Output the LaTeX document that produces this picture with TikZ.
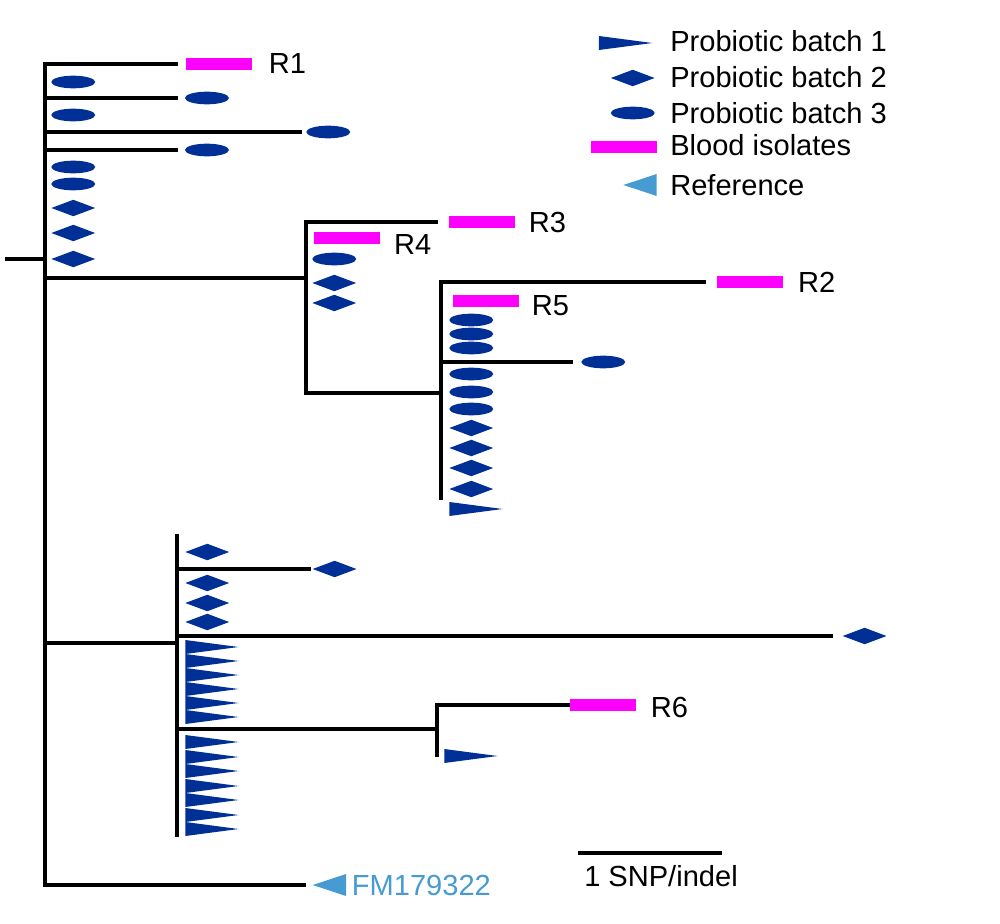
\documentclass[tikz,border=0pt]{standalone}
\usepackage{fontspec}
\setmainfont{Liberation Sans}
\usetikzlibrary{positioning,shapes.geometric}
\definecolor{batchblue}{RGB}{0,48,150}
\definecolor{bloodpink}{RGB}{255,0,255}
\definecolor{refblue}{RGB}{70,155,210}
\tikzset{
	branch/.style={line width=3.6pt},
	stem/.style={line width=3.6pt,line cap=rect},
	bone/.style={isosceles triangle,isosceles triangle stretches,fill=batchblue,inner sep=0pt,minimum width=10.5pt,minimum height=40pt,anchor=west},
	btwo/.style={diamond,fill=batchblue,inner sep=0pt,minimum width=33pt,minimum height=12.5pt,anchor=west},
	bthree/.style={ellipse,fill=batchblue,inner sep=0pt,minimum width=33pt,minimum height=9.5pt,anchor=west},
	blood/.style={rectangle,fill=bloodpink,inner sep=0pt,minimum width=49.5pt,minimum height=8.5pt,anchor=west},
	refst/.style={isosceles triangle,isosceles triangle stretches,shape border rotate=180,fill=refblue,inner sep=0pt,minimum width=16.5pt,minimum height=25pt,anchor=west},
	tag/.style={inner sep=0pt,anchor=west}
}
\begin{document}
\begin{tikzpicture}[x=0.75pt,y=-0.75pt,font=\fontsize{21.8}{26}\selectfont]
	\useasboundingbox (0,0) rectangle (1000,924);
	\coordinate (root) at (5,259);
	\coordinate (n0) at (45,259);
	\coordinate (n1) at (306,278);
	\coordinate (n2) at (441,393);
	\coordinate (n2end) at (441,498);
	\coordinate (n3) at (177,643);
	\coordinate (n3top) at (177,536);
	\coordinate (n3end) at (177,835);
	\coordinate (n4) at (437,729);
	\coordinate (n4end) at (437,755);
	\coordinate (tR1) at (178,64);
	\coordinate (tE1) at (178,98);
	\coordinate (tE2) at (302,132);
	\coordinate (tE3) at (178,150);
	\coordinate (tR3) at (438,222);
	\coordinate (tR2) at (706,282);
	\coordinate (tE4) at (573,362);
	\coordinate (tD1) at (311,569);
	\coordinate (tD2) at (833,636);
	\coordinate (tR6) at (570,705);
	\coordinate (tref) at (306,885);
	
	\draw[stem] (n0 |- tR1) -- (n0 |- tref);
	\draw[stem] (n1 |- tR3) -- (n1 |- n2);
	\draw[stem] (n2 |- tR2) -- (n2end);
	\draw[stem] (n3top) -- (n3end);
	\draw[stem] (n4 |- tR6) -- (n4end);
	\draw[branch] (root) -- (n0);
	\foreach \t in {tR1,tE1,tE2,tE3,n1,n3,tref} {\draw[branch] (n0 |- \t) -- (\t);}
	\foreach \t in {tR3,n2} {\draw[branch] (n1 |- \t) -- (\t);}
	\foreach \t in {tR2,tE4} {\draw[branch] (n2 |- \t) -- (\t);}
	\foreach \t in {tD1,tD2,n4} {\draw[branch] (n3 |- \t) -- (\t);}
	\draw[branch] (n4 |- tR6) -- (tR6);
	
	\node[blood,right=6pt of tR1] (R1) {};
	\node[tag,right=12pt of R1] (lR1) {R1};
	\node[bthree,right=5pt of tE1] (E1) {};
	\node[bthree,right=3pt of tE2] (E2) {};
	\node[bthree,right=5pt of tE3] (E3) {};
	\foreach \y in {82,115,167,184} {\node[bthree] (a\y) at (51,\y) {};}
	\foreach \y in {208,233,259} {\node[btwo] (a\y) at (51,\y) {};}
	
	\node[blood,right=8pt of tR3] (R3) {};
	\node[tag,right=10pt of R3] (lR3) {R3};
	\node[blood] (R4) at (314,238) {};
	\node[tag,right=10pt of R4,yshift=-4.5pt] (lR4) {R4};
	\node[bthree] (b259) at (312,259) {};
	\foreach \y in {283,303} {\node[btwo] (b\y) at (312,\y) {};}
	
	\node[blood,right=8pt of tR2] (R2) {};
	\node[tag,right=11pt of R2] (lR2) {R2};
	\node[blood] (R5) at (453,301) {};
	\node[tag,right=9pt of R5,yshift=-3.5pt] (lR5) {R5};
	\node[bthree,right=6pt of tE4] (E4) {};
	\foreach \y in {320,334,348,374,392,409} {\node[bthree] (d\y) at (449,\y) {};}
	\foreach \y in {428,448,468,489} {\node[btwo] (d\y) at (449,\y) {};}
	\node[bone] (d509) at (449,509) {};
	
	\node[btwo,right=1pt of tD1] (D1) {};
	\node[btwo,right=7pt of tD2] (D2) {};
	\foreach \y in {552,583,603,622} {\node[btwo] (c\y) at (185,\y) {};}
	\foreach \y in {647,661,675,689,703,717,742,757,771,786,800,815,829} {\node[bone] (c\y) at (185,\y) {};}
	\node[blood,right=0pt of tR6] (R6) {};
	\node[tag,right=10.5pt of R6,yshift=-1.5pt] (lR6) {R6};
	\node[bone] (e756) at (444,756) {};
	
	\node[refst,right=4.5pt of tref] (ref) {};
	\node[tag,text=refblue,right=4pt of ref] (lref) {FM179322};
	
	\coordinate (s0) at (578,853);
	\coordinate (s1) at (722,853);
	\draw[branch] (s0) -- (s1);
	\node[tag,anchor=base west] (sbar) at (584,886) {1 SNP/indel};
	
	\node[bone,anchor=east] (k1) at (653,43) {};
	\node[btwo,anchor=east] (k2) at (655,78) {};
	\node[bthree,anchor=east] (k3) at (655,113) {};
	\node[blood,anchor=east] (k4) at (657,147) {};
	\node[refst,anchor=east] (k5) at (657,185) {};
	\node[tag,anchor=base west] (t1) at (670,52) {Probiotic batch 1};
	\node[tag,anchor=base west] (t2) at (670,88) {Probiotic batch 2};
	\node[tag,anchor=base west] (t3) at (670,123) {Probiotic batch 3};
	\node[tag,anchor=base west] (t4) at (670,155) {Blood isolates};
	\node[tag,anchor=base west] (t5) at (670,195) {Reference};
\end{tikzpicture}
\end{document}
